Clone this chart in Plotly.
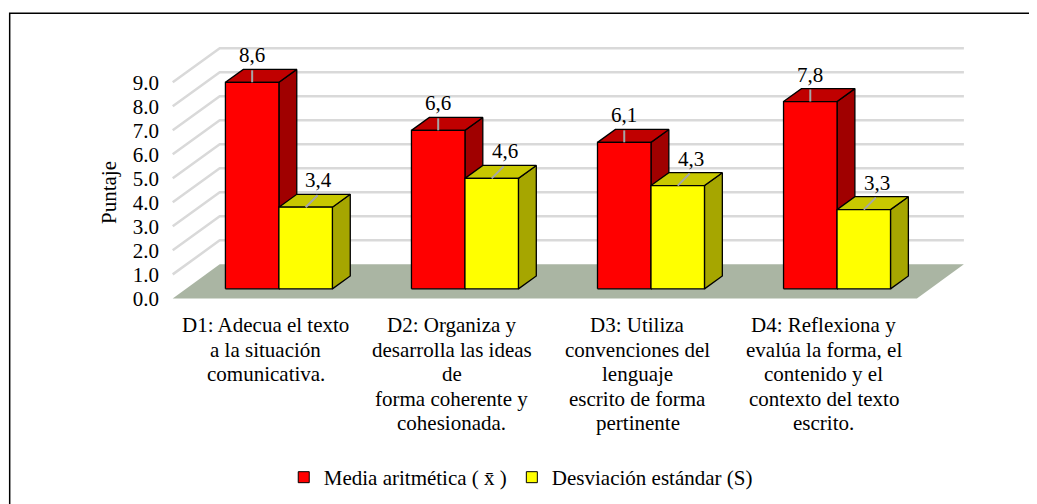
import plotly.graph_objects as go

# ---------------- data ----------------
categories = [
    ["D1: Adecua el texto", "a la situación", "comunicativa."],
    ["D2: Organiza y", "desarrolla las ideas", "de", "forma coherente y", "cohesionada."],
    ["D3: Utiliza", "convenciones del", "lenguaje", "escrito de forma", "pertinente"],
    ["D4: Reflexiona y", "evalúa la forma, el", "contenido y el", "contexto del texto", "escrito."],
]
series_names = ["Media aritmética ( x\u0304 )", "Desviación estándar (S)"]
media = [8.6, 6.6, 6.1, 7.8]
desviacion = [3.4, 4.6, 4.3, 3.3]
y_ticks = [0, 1, 2, 3, 4, 5, 6, 7, 8, 9]
y_title = "Puntaje"

# ---------------- layout geometry ----------------
OFF = 8                            # page body margin of the html page
W, H = 1037 - OFF, 504 - OFF
PX_X, PX_Y = 186.0, 24.0           # pixels per category / per unit
X0_PX, Y0_PX = 266.0 - OFF, 298.0 - OFF   # pixel of x=0 / y=0 (front plane)
xmin, xmax = -0.52, 3.85
ymin, ymax = -0.4, 10.8
ML = X0_PX + xmin * PX_X
MR = W - (X0_PX + xmax * PX_X)
MT = Y0_PX - ymax * PX_Y
MB = H - (Y0_PX - ymin * PX_Y)
PW, PH = W - ML - MR, H - MT - MB


def pxx(px):
    return (px - OFF - ML) / PW


def pxy(py):
    return (H - MB - (py - OFF)) / PH


DX = 47.0 / PX_X     # floor depth, x units
DY = 34.0 / PX_Y     # floor depth, y units
T0, T1 = 0.28, 0.66  # bar depth range
BW = 0.2875          # bar width (category units)

FONT = "Liberation Serif"
fs = 21

fig = go.Figure()

# floor
n = len(categories)
fx = [-0.5, n - 0.5, n - 0.5 + DX, -0.5 + DX, -0.5]
fy = [0, 0, DY, DY, 0]
fig.add_trace(go.Scatter(x=fx, y=fy, fill="toself", mode="lines",
                         fillcolor="#AAB5A3", line=dict(width=0),
                         hoverinfo="skip", showlegend=False))

# walls gridlines
gx, gy = [], []
for v in y_ticks[1:]:
    gx += [-0.5, -0.5 + DX, n - 0.5 + DX, None]
    gy += [v, v + DY, v + DY, None]
fig.add_trace(go.Scatter(x=gx, y=gy, mode="lines",
                         line=dict(color="#D9D9D9", width=2.5),
                         hoverinfo="skip", showlegend=False))

colors = [
    dict(front="#FF0000", top="#C00000", side="#A00000"),
    dict(front="#FFFF00", top="#C8C800", side="#A6A600"),
]
series = [media, desviacion]

d = (T1 - T0) * DX
e = (T1 - T0) * DY
yb = T0 * DY
annotations = []
leader_x, leader_y = [], []
for i in range(n):
    for s, vals in enumerate(series):
        v = vals[i]
        c = colors[s]
        xl = i - BW + s * BW + T0 * DX
        xr = xl + BW
        yt = yb + v
        faces = [
            ([xr, xr + d, xr + d, xr, xr], [yb, yb + e, yt + e, yt, yb], c["side"]),
            ([xl, xr, xr + d, xl + d, xl], [yt, yt, yt + e, yt + e, yt], c["top"]),
            ([xl, xr, xr, xl, xl], [yb, yb, yt, yt, yb], c["front"]),
        ]
        for px_, py_, col in faces:
            fig.add_trace(go.Scatter(x=px_, y=py_, fill="toself", mode="lines",
                                     fillcolor=col,
                                     line=dict(color="black", width=1.3),
                                     hoverinfo="skip", showlegend=False))
        cx = (xl + xr) / 2
        shift = 0 if s == 0 else 13
        annotations.append(dict(
            x=cx, y=yt, xref="x", yref="y", xshift=shift, yshift=27,
            text=f"{v:.1f}".replace(".", ","), showarrow=False,
            font=dict(family=FONT, size=fs, color="black"),
            xanchor="center", yanchor="middle"))
        leader_x += [cx, cx + (12 / PX_X if s else 0), None]
        leader_y += [yt, yt + 12 / PX_Y, None]

fig.add_trace(go.Scatter(x=leader_x, y=leader_y, mode="lines",
                         line=dict(color="#A6A6A6", width=2),
                         hoverinfo="skip", showlegend=False))

# legend entries
for name, c in zip(series_names, colors):
    fig.add_trace(go.Scatter(x=[None], y=[None], mode="markers", name=name,
                             marker=dict(symbol="square", size=11, color=c["front"],
                                         line=dict(color="black", width=1))))

# category labels (multi-line)
LINE = 24.5
for i, lines in enumerate(categories):
    for k, txt in enumerate(lines):
        annotations.append(dict(
            x=i, y=0, xref="x", yref="y", yshift=-(27 + k * LINE),
            text=txt, showarrow=False,
            font=dict(family=FONT, size=fs, color="black"),
            xanchor="center", yanchor="middle"))

# y title
annotations.append(dict(
    x=pxx(110), y=pxy(192), xref="paper", yref="paper", text=y_title,
    textangle=-90, showarrow=False,
    font=dict(family=FONT, size=fs, color="black"),
    xanchor="center", yanchor="middle"))

fig.update_layout(
    width=W, height=H,
    margin=dict(l=ML, r=MR, t=MT, b=MB, autoexpand=False),
    paper_bgcolor="white", plot_bgcolor="white",
    font=dict(family=FONT, size=fs, color="black"),
    xaxis=dict(range=[xmin, xmax], showgrid=False, zeroline=False,
               showticklabels=False, showline=False, ticks=""),
    yaxis=dict(range=[ymin, ymax], showgrid=False, zeroline=False,
               tickvals=y_ticks, ticktext=[f"{v:.1f}" for v in y_ticks],
               showline=False, ticks="", ticklabelstandoff=9),
    showlegend=True,
    legend=dict(orientation="h", x=pxx(284), y=pxy(477), xanchor="left",
                yanchor="middle", font=dict(family=FONT, size=fs),
                bgcolor="rgba(0,0,0,0)"),
    annotations=annotations,
    shapes=[dict(type="rect", xref="paper", yref="paper",
                 x0=pxx(10), x1=pxx(1060), y0=pxy(13), y1=pxy(530),
                 line=dict(color="black", width=1.5), fillcolor="rgba(0,0,0,0)",
                 layer="below")],
)

fig.write_html("out.html")
